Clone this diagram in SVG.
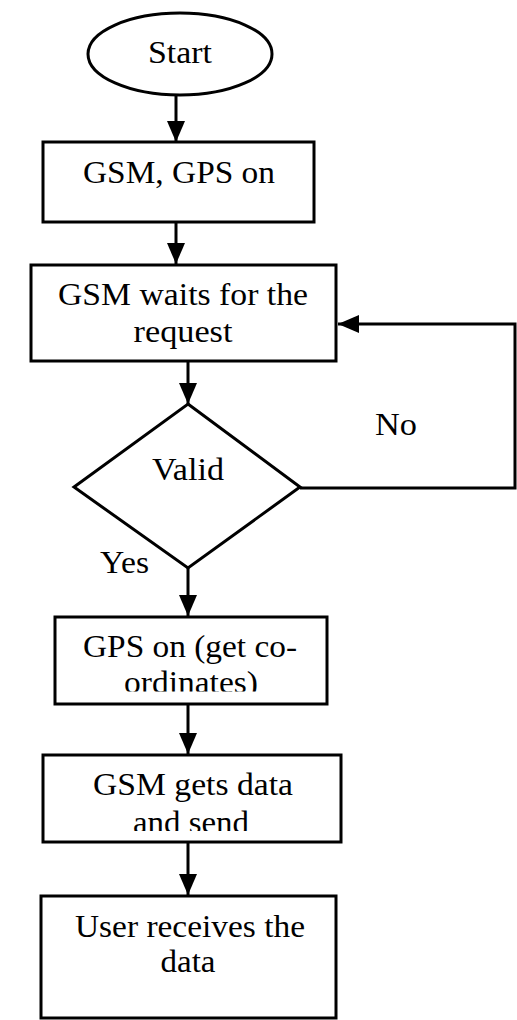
<svg xmlns="http://www.w3.org/2000/svg" width="517" height="1020" viewBox="0 0 517 1020">
<style>
.s{fill:#fff;stroke:#000;stroke-width:3}
.t{font-family:"Liberation Serif","Times New Roman",serif;font-size:31px;fill:#000;text-anchor:middle}
.c{fill:none;stroke:#000;stroke-width:3}
</style>
<defs>
<marker id="ah" markerUnits="userSpaceOnUse" markerWidth="22" markerHeight="18" refX="21" refY="9" orient="auto">
<path d="M0,0 L21,9 L0,18 z" fill="#000"/>
</marker>
<clipPath id="c3"><rect x="55" y="617" width="272" height="74.5"/></clipPath>
<clipPath id="c4"><rect x="43" y="755" width="298" height="76"/></clipPath>
</defs>
<g id="connectors">
<line class="c" x1="176" y1="95" x2="176" y2="142" marker-end="url(#ah)"/>
<line class="c" x1="176" y1="222" x2="176" y2="264" marker-end="url(#ah)"/>
<line class="c" x1="188" y1="361" x2="188" y2="404" marker-end="url(#ah)"/>
<polyline class="c" points="300,488 515,488 515,324 338,324" marker-end="url(#ah)"/>
<line class="c" x1="188" y1="568" x2="188" y2="616" marker-end="url(#ah)"/>
<line class="c" x1="188" y1="704" x2="188" y2="754" marker-end="url(#ah)"/>
<line class="c" x1="188" y1="842" x2="188" y2="895" marker-end="url(#ah)"/>
<text class="t" x="396" y="435" textLength="42" lengthAdjust="spacingAndGlyphs">No</text>
<text class="t" x="124.5" y="573" textLength="49" lengthAdjust="spacingAndGlyphs">Yes</text>
</g>
<g id="start">
<ellipse class="s" cx="180" cy="54" rx="92" ry="41"/>
<text class="t" x="180" y="63" textLength="64" lengthAdjust="spacingAndGlyphs">Start</text>
</g>
<g id="gsm-gps-on">
<rect class="s" x="43" y="142" width="271" height="80"/>
<text class="t" x="179" y="183" textLength="192" lengthAdjust="spacingAndGlyphs">GSM, GPS on</text>
</g>
<g id="gsm-waits">
<rect class="s" x="31" y="265" width="305" height="96"/>
<text class="t" x="183" y="305" textLength="250" lengthAdjust="spacingAndGlyphs">GSM waits for the</text>
<text class="t" x="183" y="342" textLength="99" lengthAdjust="spacingAndGlyphs">request</text>
</g>
<g id="valid">
<polygon class="s" points="188,404 300,487 188,568 74,487"/>
<text class="t" x="188" y="480" textLength="72" lengthAdjust="spacingAndGlyphs">Valid</text>
</g>
<g id="gps-on">
<rect class="s" x="55" y="617" width="272" height="87"/>
<text class="t" x="190" y="657" textLength="214" lengthAdjust="spacingAndGlyphs">GPS on (get co-</text>
<text class="t" x="191" y="693" textLength="134" lengthAdjust="spacingAndGlyphs" clip-path="url(#c3)">ordinates)</text>
</g>
<g id="gsm-gets-data">
<rect class="s" x="43" y="755" width="298" height="87"/>
<text class="t" x="193" y="795" textLength="200" lengthAdjust="spacingAndGlyphs">GSM gets data</text>
<text class="t" x="191" y="833" textLength="116" lengthAdjust="spacingAndGlyphs" clip-path="url(#c4)">and send</text>
</g>
<g id="user-receives">
<rect class="s" x="41" y="896" width="295" height="122"/>
<text class="t" x="190" y="937" textLength="230" lengthAdjust="spacingAndGlyphs">User receives the</text>
<text class="t" x="188" y="972" textLength="55" lengthAdjust="spacingAndGlyphs">data</text>
</g>
</svg>
